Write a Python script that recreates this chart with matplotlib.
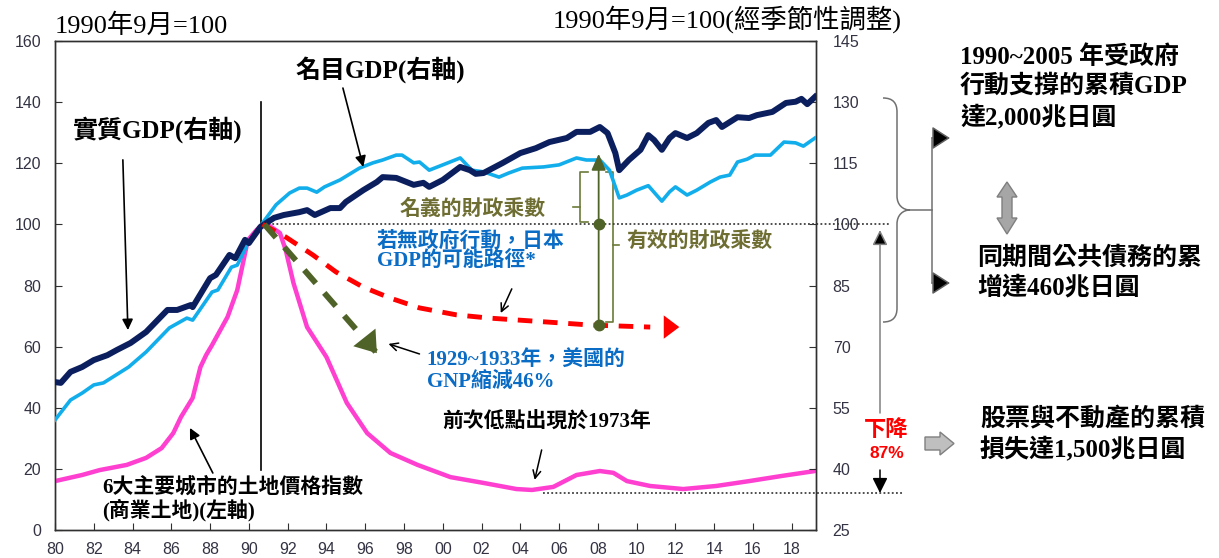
import matplotlib.pyplot as plt
import numpy as np
from matplotlib.path import Path
from matplotlib.patches import PathPatch, Polygon

# ---- data ----
land_years = [1980, 1981.4, 1982.3, 1983.7, 1984.7, 1985.5, 1986.1, 1986.5, 1987.1, 1987.5,
              1987.8, 1988.1, 1988.9, 1989.4, 1989.95, 1990.4, 1990.7, 1991.0, 1991.6, 1991.9,
              1992.3, 1993.0, 1994.0, 1995.05, 1996.1, 1997.3, 1998.7, 2000.4, 2002.1, 2003.8,
              2004.6, 2005.7, 2006.9, 2008.1, 2008.8, 2009.5, 2010.7, 2012.4, 2014.1, 2015.8,
              2017.5, 2019.2]
land_index = [16.0, 18.0, 19.6, 21.3, 23.6, 26.8, 31.7, 37.0, 43.2, 53.3,
              57.3, 60.5, 69.7, 78.5, 94.9, 98.2, 100.0, 99.8, 97.2, 91.6,
              80.8, 66.4, 56.6, 41.6, 31.7, 25.2, 21.3, 17.3, 15.4, 13.4,
              13.1, 14.1, 18.0, 19.3, 18.7, 16.0, 14.4, 13.4, 14.4, 16.0,
              17.7, 19.3]

real_years = [1980, 1980.3, 1980.8, 1981.4, 1982.0, 1982.7, 1983.2, 1983.9, 1984.7, 1985.8,
              1986.3, 1987.0, 1987.1, 1988.0, 1988.3, 1989.0, 1989.3, 1989.8, 1990.0, 1990.6,
              1991.3, 1991.8, 1992.6, 1993.0, 1993.4, 1994.2, 1994.7, 1995.0, 1995.9, 1996.6,
              1996.9, 1997.6, 1998.5, 1999.0, 1999.3, 2000.0, 2000.9, 2001.4, 2001.7, 2002.1,
              2003.1, 2004.0, 2004.8, 2005.5, 2006.4, 2006.9, 2007.6, 2008.1, 2008.5, 2008.9,
              2009.1, 2009.6, 2010.2, 2010.6, 2010.9, 2011.3, 2011.7, 2012.0, 2012.6, 2013.1,
              2013.7, 2014.1, 2014.4, 2015.2, 2015.8, 2016.2, 2016.7, 2017.0, 2017.7, 2018.2,
              2018.5, 2018.8, 2019.2]
real_gdp = [61.3, 61.1, 63.8, 65.0, 66.7, 67.9, 69.2, 70.9, 73.6, 79.0,
            79.0, 80.2, 79.7, 86.8, 87.6, 92.5, 91.7, 96.2, 95.4, 99.4,
            101.6, 102.3, 103.0, 103.5, 102.3, 104.0, 104.0, 105.5, 108.4, 110.4,
            111.6, 111.4, 109.7, 110.2, 109.2, 110.9, 114.1, 113.3, 112.4, 112.6,
            115.1, 117.5, 118.7, 120.2, 121.2, 122.7, 122.7, 123.9, 122.4, 117.5,
            113.3, 115.8, 118.3, 121.9, 120.7, 118.3, 121.2, 122.4, 121.2, 122.4,
            124.9, 125.6, 123.9, 126.3, 126.1, 126.8, 127.3, 127.6, 129.8, 130.1,
            130.8, 129.5, 131.3]

nom_years = [1980, 1980.8, 1981.4, 1982.0, 1982.5, 1983.8, 1984.7, 1985.9, 1986.8, 1987.1,
             1988.1, 1988.4, 1989.1, 1989.4, 1989.9, 1990.0, 1990.7, 1991.4, 1992.1, 1992.6,
             1993.0, 1993.5, 1993.9, 1994.7, 1995.7, 1996.4, 1996.9, 1997.6, 1997.9, 1998.5,
             1998.8, 1999.3, 2000.0, 2000.9, 2001.5, 2002.1, 2002.9, 2003.4, 2004.1, 2005.2,
             2006.0, 2006.9, 2007.4, 2008.1, 2008.6, 2009.1, 2009.5, 2010.0, 2010.6, 2011.3,
             2011.7, 2012.0, 2012.6, 2013.1, 2013.8, 2014.3, 2014.8, 2015.2, 2015.7, 2016.1,
             2016.9, 2017.6, 2018.2, 2018.6, 2019.2]
nom_gdp = [52.0, 56.9, 58.6, 60.6, 61.1, 65.0, 68.7, 74.6, 77.0, 76.5,
           83.4, 83.9, 89.5, 90.0, 94.9, 95.4, 100.3, 104.8, 107.7, 108.9,
           108.9, 107.9, 109.2, 110.9, 113.8, 115.1, 115.8, 117.0, 117.0, 115.1,
           115.3, 113.3, 114.6, 116.3, 113.3, 112.9, 111.6, 112.6, 113.8, 114.1,
           114.6, 116.3, 115.8, 115.8, 113.3, 106.5, 107.2, 108.4, 109.5, 105.7,
           108.0, 109.2, 107.2, 108.4, 110.4, 111.6, 112.1, 115.3, 116.0, 117.0,
           117.0, 120.2, 120.0, 119.2, 121.2]

# hypothetical path without government action (right axis units)
path_years = [1990.7, 1991.9, 1993.3, 1994.5, 1995.9, 1997.3, 1998.8, 2000.7, 2002.4,
              2005.5, 2007.6, 2010.7, 2012.2]
path_gdp = [100.0, 96.9, 92.5, 88.3, 84.6, 81.9, 79.5, 77.8, 77.0, 76.0, 75.3, 74.8, 74.8]

# US 1929~1933 style decline (right axis units)
us_years = [1990.8, 1996.6]
us_gdp = [100.0, 68.4]

xtick_years = list(range(1980, 2019, 2))
xtick_labels = ['%02d' % (y % 100) for y in xtick_years]

NAVY = '#0B1F5E'
LBLUE = '#12AEEC'
PINK = '#FF3FD0'
OLIVE = '#4F6228'
OLIVE_TXT = '#6E6E33'
BLUE_TXT = '#0A6CC4'
SERIF = ['Liberation Serif', 'Noto Sans CJK TC']
SANS = ['Liberation Sans', 'Noto Sans CJK TC']

W, H = 1219, 558


def fp(x, y):
    # image pixel -> figure fraction
    return (x / W, 1 - y / H)


fig = plt.figure(figsize=(W / 100, H / 100), dpi=100)
ax = fig.add_axes([55 / W, 28 / H, 761 / W, 489 / H])
ax2 = ax.twinx()

ax.set_xlim(1980, 2019.25)
ax.set_ylim(0, 160)
ax2.set_ylim(25, 145)
ax.set_yticks(range(0, 161, 20))
ax2.set_yticks(range(25, 146, 15))
ax.set_xticks(xtick_years)
ax.set_xticklabels(xtick_labels)

for a in (ax, ax2):
    for s in a.spines.values():
        s.set_color('#303030')
        s.set_linewidth(1.0)
ax.tick_params(axis='y', direction='in', length=5, pad=10, labelsize=11.5,
               labelcolor='#333344', color='#303030')
ax.tick_params(axis='x', direction='in', length=5, pad=9, labelsize=11.5,
               labelcolor='#333344', color='#303030')
ax2.tick_params(axis='y', direction='in', length=5, pad=12, labelsize=11.5,
                labelcolor='#333344', color='#303030')
for lab in ax.get_xticklabels() + ax.get_yticklabels() + ax2.get_yticklabels():
    lab.set_family(SANS)

# ---- series ----
ax.plot(land_years, land_index, color=PINK, lw=3.2, solid_capstyle='round', zorder=3)
ax2.plot(nom_years, nom_gdp, color=LBLUE, lw=2.6, zorder=3)
ax2.plot(real_years, real_gdp, color=NAVY, lw=4.3, zorder=4)

ax2.plot(path_years[:-1], path_gdp[:-1], color='#FF0000', lw=3.5, dashes=(3, 2.2), zorder=5)
ax2.annotate('', xy=(path_years[-1], path_gdp[-1]), xytext=(path_years[-2], path_gdp[-2]),
             arrowprops=dict(arrowstyle='-|>,head_length=0.8,head_width=0.6', color='#FF0000',
                             lw=0, mutation_scale=14, shrinkA=0, shrinkB=0), zorder=5)

ax2.plot(us_years, us_gdp, color=OLIVE, lw=4.2, dashes=(3, 2.2), zorder=5)
ax2.annotate('', xy=(us_years[1], us_gdp[1]),
             xytext=(us_years[1] - 0.6, us_gdp[1] + 3.6),
             arrowprops=dict(arrowstyle='-|>,head_length=0.85,head_width=0.6', color=OLIVE,
                             lw=0, mutation_scale=17, shrinkA=0, shrinkB=0), zorder=6)

# reference lines
ax2.plot([1990.8, 2023.1], [100, 100], color='#404040', lw=1.3, ls=(0, (1, 1.3)),
         clip_on=False, zorder=2)
ax.plot([2005.15, 2023.8], [12.1, 12.1], color='#404040', lw=1.3, ls=(0, (1, 1.3)),
        clip_on=False, zorder=2)
ax.plot([1990.6, 1990.6], [19.6, 140], color='black', lw=1.2, zorder=2)

# effective / nominal fiscal multiplier
x_arrow = 2008.04
low = np.interp(x_arrow, path_years, path_gdp)
ax2.annotate('', xy=(x_arrow, 117.3), xytext=(x_arrow, low),
             arrowprops=dict(arrowstyle='-|>,head_length=0.9,head_width=0.4', color=OLIVE,
                             lw=1.3, mutation_scale=11, shrinkA=0, shrinkB=0), zorder=6)
ax2.plot([x_arrow, x_arrow], [100, low], 'o', color=OLIVE, ms=7.5, zorder=7)

bk = dict(color='#6B7A3A', lw=1.2, zorder=6)
ax.plot([2007.47, 2007.06, 2007.06, 2007.47], [117.1, 117.1, 100.8, 100.8], **bk)
ax.plot([2006.7, 2007.06], [105.7, 105.7], **bk)
ax.plot([2008.4, 2008.76, 2008.76, 2008.4], [117.1, 117.1, 68.1, 68.1], **bk)
ax.plot([2008.76, 2009.07], [93.3, 93.3], **bk)

# ---- in-chart text ----
def txt(x, y, s, **kw):
    d = dict(family=SERIF, fontsize=15, weight='bold', color='black', zorder=8)
    d.update(kw)
    ax2.text(x, y, s, transform=ax.transData, **d)


txt(1985.3, 130.9, '實質GDP(右軸)', fontsize=18, ha='center', va='center')
txt(1996.8, 150.5, '名目GDP(右軸)', fontsize=18, ha='center', va='center')
txt(1982.42, 10.0, '6大主要城市的土地價格指數\n(商業土地)(左軸)', fontsize=15,
    ha='left', va='center', linespacing=1.05,
    bbox=dict(fc='white', ec='none', pad=0.5))
txt(1997.78, 104.7, '名義的財政乘數', fontsize=15, color=OLIVE_TXT, ha='left', va='center')
txt(2009.48, 93.9, '有效的財政乘數', fontsize=15, color=OLIVE_TXT, ha='left', va='center')
txt(1996.6, 91.0, '若無政府行動，日本\nGDP的可能路徑*', fontsize=15, color=BLUE_TXT,
    ha='left', va='center', linespacing=1.0)
txt(1999.18, 52.0, '1929~1933年，美國的\nGNP縮減46%', fontsize=15, color=BLUE_TXT,
    ha='left', va='center', linespacing=1.05)
txt(1999.95, 35.0, '前次低點出現於1973年', fontsize=15, ha='left', va='center')


def arr(xy, xytext, style='->', lw=1.1, ms=14, color='black'):
    ax2.annotate('', xy=xy, xytext=xytext, xycoords=ax.transData, textcoords=ax.transData,
                 arrowprops=dict(arrowstyle=style, color=color, lw=lw, mutation_scale=ms,
                                 shrinkA=0, shrinkB=0), zorder=8)


arr((1983.76, 65.4), (1983.5, 121.1), '-|>', 1.2, 16)
arr((1995.9, 118.8), (1994.85, 144.6), '-|>', 1.2, 16)
arr((1986.96, 33.4), (1988.14, 18.65), '-|>', 1.2, 16)
arr((2002.99, 71.0), (2003.56, 78.9))
arr((1997.2, 60.9), (1998.8, 57.6))
arr((2004.74, 16.4), (2005.1, 26.2))

# ---- top titles ----
fig.text(*fp(55, 26), '1990年9月=100', family=SERIF, fontsize=19, va='center', ha='left')
fig.text(*fp(553, 19), '1990年9月=100(經季節性調整)', family=SERIF, fontsize=19,
         va='center', ha='left')

# ---- right-side panel ----
brace = [fp(883, 98), fp(893, 98), fp(897, 103), fp(897, 112), fp(897, 196),
         fp(897, 205), fp(903, 210), fp(910, 210),
         fp(903, 210), fp(897, 215), fp(897, 224), fp(897, 308),
         fp(897, 317), fp(893, 322), fp(883, 322)]
codes = [Path.MOVETO, Path.CURVE4, Path.CURVE4, Path.CURVE4, Path.LINETO,
         Path.CURVE4, Path.CURVE4, Path.CURVE4,
         Path.CURVE4, Path.CURVE4, Path.CURVE4, Path.LINETO,
         Path.CURVE4, Path.CURVE4, Path.CURVE4]
fig.add_artist(PathPatch(Path(brace, codes), transform=fig.transFigure, fc='none',
                         ec='#707070', lw=1.1))

def farr(p0, p1, style='-|>', color='#606060', lw=1.1, ms=14):
    ax2.annotate('', xy=fp(*p1), xytext=fp(*p0), xycoords='figure fraction',
                 textcoords='figure fraction', annotation_clip=False,
                 arrowprops=dict(arrowstyle=style, color=color, lw=lw, mutation_scale=ms,
                                 shrinkA=0, shrinkB=0, fc='black'))


fig.add_artist(plt.Line2D([fp(910, 210)[0], fp(932, 210)[0]], [fp(910, 210)[1]] * 2,
                          transform=fig.transFigure, color='#707070', lw=1.1))
fig.add_artist(plt.Line2D([fp(932, 138)[0]] * 2, [fp(932, 138)[1], fp(932, 283)[1]],
                          transform=fig.transFigure, color='#707070', lw=1.1))
farr((932, 138), (950, 138), '-|>,head_length=0.7,head_width=0.45', ms=16)
farr((932, 283), (950, 283), '-|>,head_length=0.7,head_width=0.45', ms=16)

farr((880, 413), (880, 230), '-|>,head_length=0.7,head_width=0.35', color='#808080', ms=13)
farr((880, 470), (880, 493), '-|>,head_length=0.7,head_width=0.35', color='black', ms=13)

fig.text(*fp(886, 430), '下降', family=['Noto Sans CJK TC'], fontsize=16, weight='bold',
         color='red', ha='center', va='center')
fig.text(*fp(887, 454), '87%', family=['Liberation Sans'], fontsize=12.5, weight='bold',
         color='red', ha='center', va='center')

dbl = [(1007, 182), (1017, 197), (1012, 197), (1012, 218), (1017, 218), (1007, 234),
       (997, 218), (1002, 218), (1002, 197), (997, 197)]
fig.add_artist(Polygon([fp(*p) for p in dbl], closed=True, transform=fig.transFigure,
                       fc='#A6A6A6', ec='#7F7F7F', lw=1))
blk = [(925, 437), (940, 437), (940, 432), (954, 443.5), (940, 455), (940, 450), (925, 450)]
fig.add_artist(Polygon([fp(*p) for p in blk], closed=True, transform=fig.transFigure,
                       fc='#BFBFBF', ec='#7F7F7F', lw=1))

rt = dict(family=SERIF, fontsize=18, weight='bold', ha='left', va='center', linespacing=1.3)
fig.text(*fp(960, 87), '1990~2005 年受政府\n行動支撐的累積GDP\n達2,000兆日圓', **rt)
fig.text(*fp(977, 273), '同期間公共債務的累\n增達460兆日圓', **rt)
fig.text(*fp(980, 435), '股票與不動產的累積\n損失達1,500兆日圓', **rt)

fig.savefig('out.png', dpi=100)
